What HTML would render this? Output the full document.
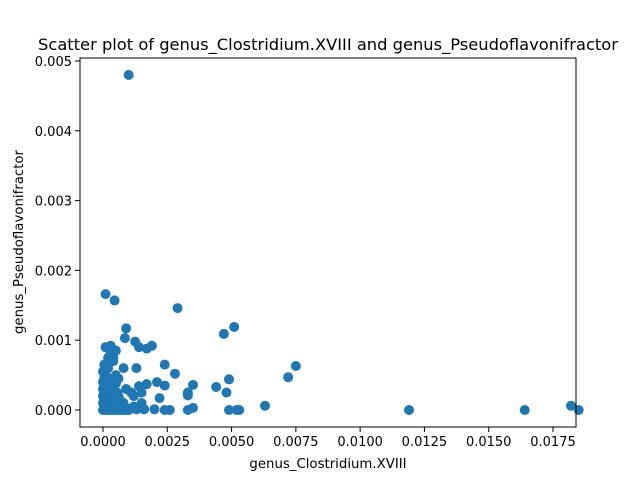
<!DOCTYPE html>
<html><head><meta charset="utf-8"><style>
body{margin:0;background:#fff;font-family:"Liberation Sans",sans-serif}
text{font-family:"DejaVu Sans","Liberation Sans",sans-serif;fill:#000}
</style></head><body>
<svg id="chart" width="640" height="480">
<rect width="640" height="480" fill="#fff"/>
<text x="328" y="50" font-size="16.3" text-anchor="middle">Scatter plot of genus_Clostridium.XVIII and genus_Pseudoflavonifractor</text>
<g id="marks"></g>
<rect x="80" y="58" width="496" height="369" fill="none" stroke="#000" stroke-width="1"/>
<g id="axes"></g>
<text x="328" y="468" font-size="13.3" text-anchor="middle">genus_Clostridium.XVIII</text>
<text transform="translate(23,242) rotate(-90)" font-size="13.3" text-anchor="middle">genus_Pseudoflavonifractor</text>
</svg>
<script>
const xVals=[0.001,0.0001,0.00045,0.0029,0.0047,0.0051,0.0009,0.00085,0.00125,0.0014,0.0017,0.0019,0.0003,0.0001,0.0005,0.0002,0.0024,0.0013,0.0075,0.0072,0.0028,0.0049,0.0044,0.0035,0.0024,0.0021,0.0017,0.0014,0.0033,0.0033,0.0048,0.0022,0.0063,0.0119,0.0164,0.0182,0.0185,0.0049,0.0052,0.0053,0.0033,0.0035,0.0026,0.0024,0.002,0.0016,0.0013,0.0011,
0,0.0001,0.0002,0.0003,0.0004,0.0005,0.0006,0.0007,0.0008,0.0009,0.001,0,0.0001,0.0002,0.0003,0.0004,0.0005,0.0006,0.0007,0.0008,0,0.0001,0.0002,0.0003,0.0004,0.0005,0.0006,0,0.0001,0.0002,0.0003,0.0004,0,0.0001,0.0002,0.0003,0.0005,0.0008,0.0012,0.0015,0.0009,0.0011,0,0.0001,0.0002,0.0004,
0.00005,0.00015,0.00025,0.00035,0.00045,0.00055,0.00065,0.00075,0.00005,0.00015,0.00025,0.00035,0.00045,0.00055,0.00065,0.00005,0.00015,0.00025,0.00035,0.00045,0.00055,0.00005,0.00015,0.00025,0.00035,0.00005,0.00015,0.00025,0.00005,0.00015,0.0004,0.0003,0.0006,0.0005,0.00095,0.0012,0.0015];
const yVals=[0.0048,0.00166,0.00157,0.00146,0.00109,0.00119,0.00117,0.00103,0.00098,0.0009,0.00088,0.00092,0.00092,0.0009,0.00085,0.00075,0.00065,0.0006,0.00063,0.00047,0.00052,0.00044,0.00033,0.00036,0.00035,0.0004,0.00037,0.00034,0.00021,0.00025,0.00025,0.00017,0.00006,0,0,0.00006,0,0,0,0,0,0.00003,0,0,0.00001,0.00001,0.00001,0.00002,
0,0,0,0,0,0,0,0,0,0,0,0.0001,0.0001,0.0001,0.0001,0.0001,0.0001,0.0001,0.0001,0.0001,0.0002,0.0002,0.0002,0.0002,0.0002,0.0002,0.0002,0.0003,0.0003,0.0003,0.0003,0.0003,0.0004,0.0004,0.0004,0.0004,0.0005,0.0006,0.0002,0.0001,0.0003,0.00025,0.00055,0.00055,0.0006,0.0007,
0.00005,0.00005,0.00005,0.00005,0.00005,0.00005,0.00005,0.00005,0.00015,0.00015,0.00015,0.00015,0.00015,0.00015,0.00015,0.00025,0.00025,0.00025,0.00025,0.00025,0.00025,0.00035,0.00035,0.00035,0.00035,0.00045,0.00045,0.00045,0.00065,0.00065,0.00075,0.00082,0.00045,0.00038,0.00002,0.00005,0.00025];
const xTicks=[0,0.0025,0.005,0.0075,0.01,0.0125,0.015,0.0175];
const xTickLabels=["0.0000","0.0025","0.0050","0.0075","0.0100","0.0125","0.0150","0.0175"];
const yTicks=[0,0.001,0.002,0.003,0.004,0.005];
const yTickLabels=["0.000","0.001","0.002","0.003","0.004","0.005"];
const X=v=>103+v*450/0.0175, Y=v=>410-v*349/0.005;
const NS="http://www.w3.org/2000/svg";
const marks=document.getElementById('marks'), axes=document.getElementById('axes');
xVals.forEach((v,i)=>{const c=document.createElementNS(NS,'circle');
c.setAttribute('cx',X(v));c.setAttribute('cy',Y(yVals[i]));c.setAttribute('r',5);c.setAttribute('fill','#1f77b4');


marks.appendChild(c);});
xTicks.forEach((v,i)=>{const l=document.createElementNS(NS,'line');
l.setAttribute('x1',X(v));l.setAttribute('x2',X(v));l.setAttribute('y1',427);l.setAttribute('y2',432);l.setAttribute('stroke','#000');


axes.appendChild(l);
const t=document.createElementNS(NS,'text');t.setAttribute('x',X(v));t.setAttribute('y',446);t.setAttribute('font-size','13');t.setAttribute('text-anchor','middle');t.textContent=xTickLabels[i];


axes.appendChild(t);});
yTicks.forEach((v,i)=>{const l=document.createElementNS(NS,'line');
l.setAttribute('x1',75);l.setAttribute('x2',80);l.setAttribute('y1',Y(v));l.setAttribute('y2',Y(v));l.setAttribute('stroke','#000');


axes.appendChild(l);
const t=document.createElementNS(NS,'text');t.setAttribute('x',72);t.setAttribute('y',Y(v)+5);t.setAttribute('font-size','13');t.setAttribute('text-anchor','end');t.textContent=yTickLabels[i];


axes.appendChild(t);});
</script>
</body></html>
